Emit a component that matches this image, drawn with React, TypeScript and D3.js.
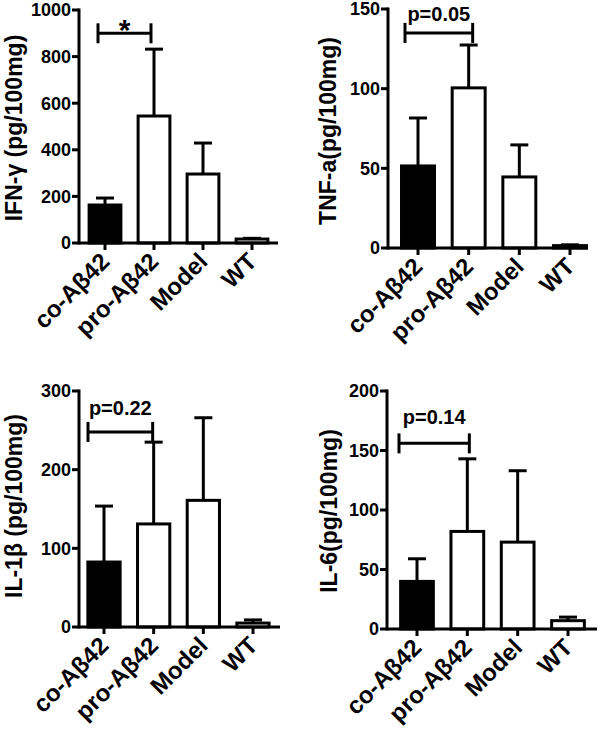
import React from "react";
import * as d3 from "d3";

const categories = ["co-Aβ42", "pro-Aβ42", "Model", "WT"];

const ifnMean = [163, 545, 296, 17];
const ifnErr = [193, 832, 429, 20];
const tnfMean = [51.5, 100.5, 44.6, 1.5];
const tnfErr = [81.6, 127.4, 64.7, 2];
const il1Mean = [82.6, 131, 161, 5];
const il1Err = [153.7, 235, 266, 9];
const il6Mean = [40, 82, 73, 7];
const il6Err = [59, 143, 133, 10];

const ifnTicks = [0, 200, 400, 600, 800, 1000];
const tnfTicks = [0, 50, 100, 150];
const il1Ticks = [0, 100, 200, 300];
const il6Ticks = [0, 50, 100, 150, 200];

const titles = ["IFN-γ (pg/100mg)", "TNF-a(pg/100mg)", "IL-1β (pg/100mg)", "IL-6(pg/100mg)"];
const sigLabels = ["*", "p=0.05", "p=0.22", "p=0.14"];
const sigLevels = [900, 135, 248, 156];

const FONT = "'Liberation Sans', Arial, sans-serif";

type Panel = {
  mean: number[];
  err: number[];
  ticks: number[];
  title: string;
  sig: string;
  sigLevel: number;
  axisX: number;
  axisEnd: number;
  y0: number;
  yTop: number;
  c0: number;
  c3: number;
  titleX: number;
  titleY: number;
  brL: number;
  brR: number;
  sigDy: number;
};

const panels: Panel[] = [
  { mean: ifnMean, err: ifnErr, ticks: ifnTicks, title: titles[0], sig: sigLabels[0], sigLevel: sigLevels[0],
    axisX: 79, axisEnd: 278, y0: 243, yTop: 10, c0: 105, c3: 252, titleX: 22, titleY: 128, brL: -7, brR: -3, sigDy: 7 },
  { mean: tnfMean, err: tnfErr, ticks: tnfTicks, title: titles[1], sig: sigLabels[1], sigLevel: sigLevels[1],
    axisX: 388, axisEnd: 588, y0: 248, yTop: 9, c0: 418, c3: 570, titleX: 336, titleY: 131, brL: -13, brR: 4, sigDy: -12 },
  { mean: il1Mean, err: il1Err, ticks: il1Ticks, title: titles[2], sig: sigLabels[2], sigLevel: sigLevels[2],
    axisX: 79, axisEnd: 280, y0: 627, yTop: 391, c0: 104, c3: 253, titleX: 22, titleY: 506, brL: -16, brR: -1, sigDy: -17 },
  { mean: il6Mean, err: il6Err, ticks: il6Ticks, title: titles[3], sig: sigLabels[3], sigLevel: sigLevels[3],
    axisX: 387, axisEnd: 597, y0: 629, yTop: 391, c0: 417, c3: 568, titleX: 337, titleY: 511, brL: -18, brR: 2, sigDy: -19 },
];

function PanelView({ p }: { p: Panel }) {
  const step = (p.c3 - p.c0) / 3;
  const x = d3
    .scaleBand<string>()
    .domain(categories)
    .range([p.c0 - step / 2, p.c3 + step / 2])
    .paddingInner(0.29)
    .paddingOuter(0.145);
  const yMax = p.ticks[p.ticks.length - 1];
  const y = d3.scaleLinear().domain([0, yMax]).range([p.y0, p.yTop]);
  const bw = x.bandwidth();
  const sw = 3;
  const capW = 18;
  const cx = (c: string) => (x(c) as number) + bw / 2;
  const brX1 = cx(categories[0]) + p.brL;
  const brX2 = cx(categories[1]) + p.brR;
  const brY = y(p.sigLevel);
  const isStar = p.sig === "*";
  return (
    <g>
      {categories.map((c, i) => (
        <g key={"e" + c}>
          <line x1={cx(c)} x2={cx(c)} y1={y(p.mean[i])} y2={y(p.err[i])} stroke="#000" strokeWidth={sw} />
          <line x1={cx(c) - capW / 2} x2={cx(c) + capW / 2} y1={y(p.err[i])} y2={y(p.err[i])} stroke="#000" strokeWidth={sw} />
        </g>
      ))}
      {categories.map((c, i) => (
        <rect
          key={"b" + c}
          x={(x(c) as number) + sw / 2}
          y={y(p.mean[i])}
          width={bw - sw}
          height={Math.max(0, p.y0 - y(p.mean[i]))}
          fill={i === 0 ? "#000" : "#fff"}
          stroke="#000"
          strokeWidth={sw}
        />
      ))}
      <line x1={p.axisX} x2={p.axisX} y1={p.yTop - 1.5} y2={p.y0 + 1.5} stroke="#000" strokeWidth={sw} />
      {p.ticks.map((t) => (
        <g key={"t" + t}>
          <line x1={p.axisX - 7} x2={p.axisX} y1={y(t)} y2={y(t)} stroke="#000" strokeWidth={sw} />
          <text x={p.axisX - 8} y={y(t)} dy="0.36em" textAnchor="end" fontFamily={FONT} fontWeight="bold" fontSize={18}>
            {t}
          </text>
        </g>
      ))}
      <line x1={p.axisX} x2={p.axisEnd} y1={p.y0} y2={p.y0} stroke="#000" strokeWidth={sw} />
      {categories.map((c) => (
        <g key={"x" + c}>
          <line x1={cx(c)} x2={cx(c)} y1={p.y0} y2={p.y0 + 7} stroke="#000" strokeWidth={sw} />
          <text
            transform={`translate(${cx(c) + 6},${p.y0 + 20}) rotate(-45)`}
            textAnchor="end"
            fontFamily={FONT}
            fontWeight="bold"
            fontSize={24}
          >
            {c}
          </text>
        </g>
      ))}
      <text
        transform={`translate(${p.titleX},${p.titleY}) rotate(-90)`}
        textAnchor="middle"
        fontFamily={FONT}
        fontWeight="bold"
        fontSize={23}
      >
        {p.title}
      </text>
      <line x1={brX1} x2={brX1} y1={brY - 10} y2={brY + 10} stroke="#000" strokeWidth={sw} />
      <line x1={brX2} x2={brX2} y1={brY - 10} y2={brY + 10} stroke="#000" strokeWidth={sw} />
      <line x1={brX1} x2={brX2} y1={brY} y2={brY} stroke="#000" strokeWidth={sw} />
      <text
        x={(brX1 + brX2) / 2}
        y={brY + p.sigDy}
        textAnchor="middle"
        fontFamily={FONT}
        fontWeight="bold"
        fontSize={isStar ? 30 : 20}
      >
        {p.sig}
      </text>
    </g>
  );
}

export default function App() {
  return (
    <svg
      width={600}
      height={735}
      viewBox="0 0 600 735"
      style={{ position: "absolute", left: 0, top: 0, background: "#fff" }}
    >
      <rect width={600} height={735} fill="#fff" />
      {panels.map((p, i) => (
        <PanelView key={i} p={p} />
      ))}
    </svg>
  );
}
